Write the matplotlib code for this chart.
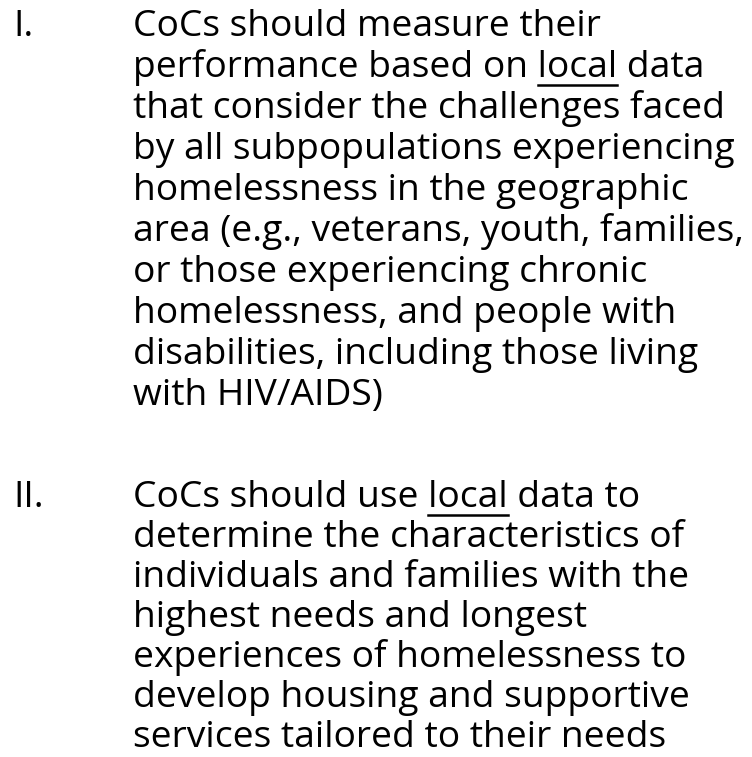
import matplotlib
matplotlib.use("Agg")
import matplotlib.pyplot as plt
from matplotlib.lines import Line2D

numerals = ["I.", "II."]
block1 = [
    "CoCs should measure their",
    "performance based on local data",
    "that consider the challenges faced",
    "by all subpopulations experiencing",
    "homelessness in the geographic",
    "area (e.g., veterans, youth, families,",
    "or those experiencing chronic",
    "homelessness, and people with",
    "disabilities, including those living",
    "with HIV/AIDS)",
]
block2 = [
    "CoCs should use local data to",
    "determine the characteristics of",
    "individuals and families with the",
    "highest needs and longest",
    "experiences of homelessness to",
    "develop housing and supportive",
    "services tailored to their needs",
]
underlined = "local"

W, H = 752, 757
fig = plt.figure(figsize=(W / 100, H / 100), dpi=100)
fig.patch.set_facecolor("white")
FONT = "Open Sans"
renderer = fig.canvas.get_renderer()

def text_width(s, fs):
    t = fig.text(0, 0, s, fontsize=fs, family=FONT)
    w = t.get_window_extent(renderer).width
    t.remove()
    return w

# size the font so the longest line spans the same width as the reference
TARGET = 612.0
FS = 24 * TARGET / text_width(block1[5], 24)

def px(x, y):
    return x / W, 1 - y / H

def draw_block(num, lines, y0, dy):
    fig.text(*px(13, y0), num, fontsize=FS, family=FONT, va="baseline", ha="left")
    for i, ln in enumerate(lines):
        y = y0 + i * dy
        fig.text(*px(133, y), ln, fontsize=FS, family=FONT, va="baseline", ha="left")
        if underlined in ln.split():
            idx = ln.index(underlined)
            wpre = text_width(ln[:idx] + "l", FS) - text_width("l", FS)
            wl = text_width(underlined, FS)
            x1 = 133 + wpre
            x2 = x1 + wl
            yu = y + 8
            fig.add_artist(Line2D([x1 / W, x2 / W], [1 - yu / H, 1 - yu / H],
                                  transform=fig.transFigure, color="black", lw=1.8))

draw_block(numerals[0], block1, 36, 41.0)
draw_block(numerals[1], block2, 507, 40.0)

fig.savefig("out.png", dpi=100, facecolor="white")
